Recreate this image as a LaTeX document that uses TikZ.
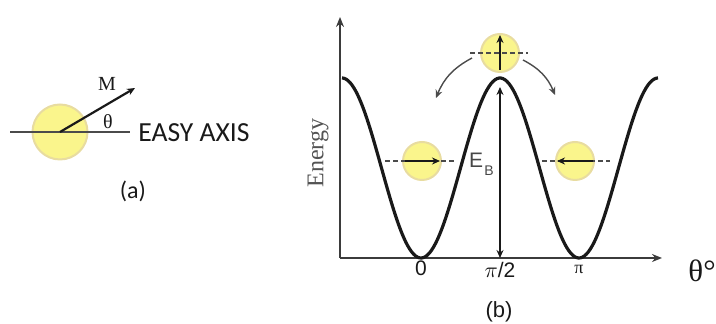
\documentclass[tikz,border=0pt]{standalone}
\usepackage{fontspec}
\usepackage{tikz}
\usetikzlibrary{arrows.meta, positioning}
\newfontfamily\calib{Carlito}
\newfontfamily\timesf{Liberation Serif}
\newfontfamily\arialf{Liberation Sans}
\definecolor{ballfill}{RGB}{250,245,140}
\definecolor{ballrim} {RGB}{232,220,160}
\definecolor{inkclr}  {RGB}{25, 25, 25}
\definecolor{greyclr} {RGB}{75, 75, 75}
\tikzset{
  ball/.style={circle, fill=ballfill, draw=ballrim, line width=1pt,
    minimum size=19pt, inner sep=0pt},
  spin/.style={-{Stealth[length=4pt, width=3.5pt]}, line width=1.1pt, inkclr},
  guide/.style={dash pattern=on 2.5pt off 1.5pt, greyclr, line width=0.6pt},
  flip/.style={-{Stealth[length=4pt, width=3.5pt]}, line width=0.7pt, greyclr},
  axis/.style={-{Stealth[length=5pt, width=4pt]}, line width=1.2pt, inkclr!85},
}

\begin{document}
\begin{tikzpicture}[x=0.5pt, y=-0.5pt]
  \useasboundingbox (0,0) rectangle (716,324);
  % (a) particle and easy axis
  \node[ball, minimum size=27.5pt] (pa) at (60,132) {};
  \draw[greyclr, line width=0.9pt] (10,132) coordinate (ea) -- (130,132) coordinate (eb);
  \coordinate (mtip) at (135,88);
  \draw[spin] (pa.center) -- (mtip);
  \node[font=\timesf\fontsize{10}{11}\selectfont, inkclr] (mlab) at (107,84) {M};
  \node[font=\timesf\fontsize{10}{11}\selectfont, inkclr] (thlab) at (108,122) {θ};
  \node[font=\calib\fontsize{13.8}{15}\selectfont, anchor=west, inner sep=0pt,
    inkclr] (easylab) at (138,133) {EASY AXIS};
  \node[font=\calib\fontsize{12}{14}\selectfont, inkclr] (alab) at (133,191) {(a)};
  % (b) axes
  \coordinate (org) at (340,258);
  \draw[axis] (org) -- (340,17) coordinate (ytop);
  \draw[axis] (org) -- (662,258) coordinate (xend);
  % energy curve, E ~ sin^2(theta)
  \def\xz{421}  \def\per{158}
  \draw[line width=1.6pt, inkclr, domain=342:658, samples=160, smooth]
    plot (\x, {258 - 180*pow(sin((\x-\xz)/\per*180),2)});
  % barrier height
  \coordinate (peak) at (500,87);
  \coordinate (foot) at (500,258);
  \draw[<->, >={Stealth[length=4pt, width=3.5pt]}, line width=0.9pt, inkclr] (foot) -- (peak);
  \node[font=\arialf\fontsize{10.5}{12}\selectfont, inkclr!80, inner sep=0pt] (eblab) at (476,160) {E};
  \node[font=\arialf\fontsize{7}{8}\selectfont, inkclr!80, inner sep=0pt] (ebsub) at (489,171) {B};
  % particles in the wells and on top
  \node[ball] (bl) at (422,161) {};
  \draw[guide] (385,161) -- (455,161);
  \draw[spin] (405,161) -- (440,161);
  \node[ball] (br) at (575,161) {};
  \draw[guide] (542,161) -- (610,161);
  \draw[spin] (593,161) -- (557,161);
  \node[ball] (bt) at (500,53) {};
  \draw[guide] (470,53) -- (528,53);
  \draw[spin] (500,70) -- (500,35);
  % switching paths
  \coordinate (ls) at (472,58);  \coordinate (le) at (436,98);
  \coordinate (rs) at (523,60);  \coordinate (re) at (555,95);
  \draw[flip] (ls) to[bend right=20] (le);
  \draw[flip] (rs) to[bend left=20] (re);
  % labels
  \node[font=\timesf\fontsize{12}{14}\selectfont, rotate=90, inkclr!75] (elab) at (318,153) {Energy};
  \node[font=\arialf\fontsize{10.5}{12}\selectfont, inkclr] (t0) at (421,268) {0};
  \node[font=\arialf\fontsize{10.5}{12}\selectfont, inkclr] (t1) at (500,270) {$\pi$/2};
  \node[font=\timesf\fontsize{9}{10}\selectfont, inkclr] (t2) at (579,269) {π};
  \node[font=\timesf\fontsize{15.5}{16}\selectfont, inkclr, anchor=west, inner sep=0pt] (thaxis) at (688,271) {θ°};
  \node[font=\arialf\fontsize{11}{12}\selectfont, inkclr] (blab) at (499,312) {(b)};
\end{tikzpicture}
\end{document}
